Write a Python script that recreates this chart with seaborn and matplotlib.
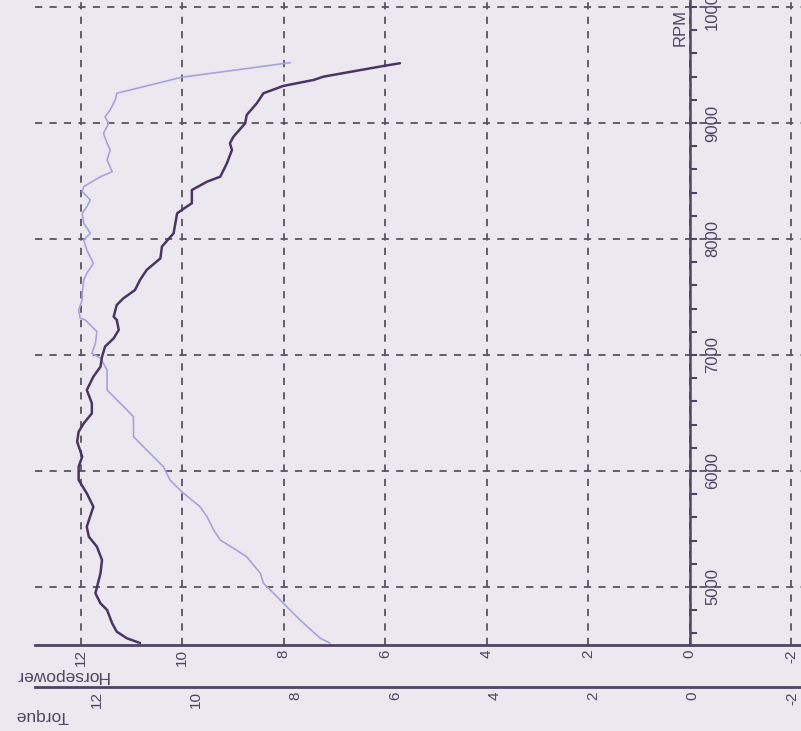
import matplotlib
matplotlib.use("Agg")
import matplotlib.pyplot as plt
from matplotlib.ticker import MultipleLocator
import pandas as pd
import seaborn as sns

# Torque curve (dark), read on the value scale
torque_rpm = [4517, 4558, 4615, 4687, 4802, 4859, 4946, 5118, 5233, 5347, 5434, 5520,
              5692, 5808, 5922, 6037, 6123, 6253, 6339, 6411, 6497, 6584, 6698, 6813,
              6899, 6985, 7072, 7144, 7216, 7302, 7330, 7431, 7488, 7560, 7647, 7733,
              7833, 7934, 8049, 8221, 8250, 8308, 8422, 8494, 8537, 8652, 8767, 8825,
              8882, 8997, 9069, 9170, 9256, 9319, 9371, 9399, 9491, 9515]
torque_val = [10.83, 11.09, 11.29, 11.38, 11.48, 11.61, 11.71, 11.61, 11.58, 11.68, 11.84, 11.88,
              11.75, 11.88, 12.04, 12.04, 11.97, 12.07, 12.04, 11.94, 11.78, 11.78, 11.88, 11.75,
              11.61, 11.58, 11.52, 11.35, 11.25, 11.29, 11.35, 11.29, 11.16, 10.93, 10.83, 10.70,
              10.43, 10.40, 10.17, 10.10, 10.01, 9.81, 9.81, 9.51, 9.25, 9.12, 9.02, 9.06,
              8.99, 8.76, 8.73, 8.53, 8.40, 8.01, 7.41, 7.22, 6.04, 5.71]

# Horsepower curve (light)
hp_rpm = [4517, 4558, 4716, 4830, 4946, 5032, 5118, 5261, 5334, 5405, 5491, 5606,
          5692, 5822, 5922, 6037, 6181, 6296, 6468, 6584, 6698, 6871, 6972, 7015,
          7101, 7201, 7302, 7316, 7388, 7474, 7532, 7647, 7704, 7790, 7905, 7991,
          8049, 8135, 8221, 8278, 8336, 8408, 8451, 8537, 8580, 8681, 8767, 8825,
          8911, 8997, 9054, 9112, 9198, 9256, 9394, 9520]
hp_val = [7.09, 7.28, 7.68, 7.94, 8.20, 8.40, 8.46, 8.73, 8.99, 9.25, 9.38, 9.51,
          9.65, 10.01, 10.24, 10.37, 10.70, 10.96, 10.96, 11.22, 11.48, 11.48, 11.61, 11.78,
          11.71, 11.68, 11.91, 12.01, 12.04, 11.97, 11.97, 11.94, 11.88, 11.75, 11.88, 11.94,
          11.81, 11.94, 11.97, 11.88, 11.81, 11.97, 11.94, 11.61, 11.38, 11.48, 11.42, 11.48,
          11.55, 11.45, 11.52, 11.42, 11.32, 11.29, 10.01, 7.87]

rpm_ticks = [5000, 6000, 7000, 8000, 9000, 10000]
value_ticks = [12, 10, 8, 6, 4, 2, 0, -2]

sns.set_theme(style="white")
plt.rcParams['font.family'] = ['Liberation Sans', 'DejaVu Sans']

bg = '#ece8f0'
ink = '#4f4560'
grid_c = '#5a5363'

fig = plt.figure(figsize=(8.01, 7.31), dpi=100, facecolor=bg)
ax = fig.add_axes([35/801, 86/731, 1 - 35/801, 645/731])
ax.set_facecolor(bg)

df_t = pd.DataFrame({'rpm': torque_rpm, 'value': torque_val})
df_h = pd.DataFrame({'rpm': hp_rpm, 'value': hp_val})

sns.lineplot(data=df_h, x='value', y='rpm', sort=False, orient='y', estimator=None,
             ax=ax, color='#a6a4da', lw=1.2)
sns.lineplot(data=df_t, x='value', y='rpm', sort=False, orient='y', estimator=None,
             ax=ax, color='#4a3662', lw=1.8)

ax.set_xlim(12.9, -2.19)
ax.set_ylim(4500, 10060)
ax.set_xlabel('')
ax.set_ylabel('')

ax.set_xticks(value_ticks)
ax.set_xticklabels([str(v) for v in value_ticks], rotation=90, fontsize=11, color=ink)
ax.set_yticks(rpm_ticks)
ax.yaxis.set_minor_locator(MultipleLocator(200))
ax.grid(True, which='major', linestyle=(0, (4, 4)), color=grid_c, lw=1.3)

for s in ['left', 'top']:
    ax.spines[s].set_visible(False)
ax.spines['right'].set_position(('data', 0))
ax.spines['right'].set_color(ink)
ax.spines['right'].set_linewidth(1.8)
ax.spines['bottom'].set_color(ink)
ax.spines['bottom'].set_linewidth(2.0)

ax.yaxis.tick_right()
ax.tick_params(axis='y', which='both', direction='out', length=5, width=1.5,
               colors=ink, pad=6, labelsize=12)
ax.tick_params(axis='x', length=0, pad=3)
for lab in ax.get_yticklabels():
    lab.set_rotation(90)
    lab.set_va('center')

ax.text(0.2, 9820, 'RPM', rotation=90, ha='center', va='center', fontsize=12, color=ink)

fwd = lambda v: (50.8 * v + 3) / 49.7
inv = lambda t: (49.7 * t - 3) / 50.8
secax = ax.secondary_xaxis(-42/645, functions=(fwd, inv))
secax.set_xticks(value_ticks)
secax.set_xticklabels([str(v) for v in value_ticks], rotation=90, fontsize=11, color=ink)
secax.tick_params(axis='x', length=0, pad=3)
secax.spines['bottom'].set_color(ink)
secax.spines['bottom'].set_linewidth(2.0)

fig.text(62/801, 1 - 675/731, 'Horsepower', rotation=180, ha='center', va='center',
         fontsize=12.5, color=ink)
fig.text(42/801, 1 - 716/731, 'Torque', rotation=180, ha='center', va='center',
         fontsize=12.5, color=ink)

fig.savefig('out.png', dpi=100, facecolor=bg)
